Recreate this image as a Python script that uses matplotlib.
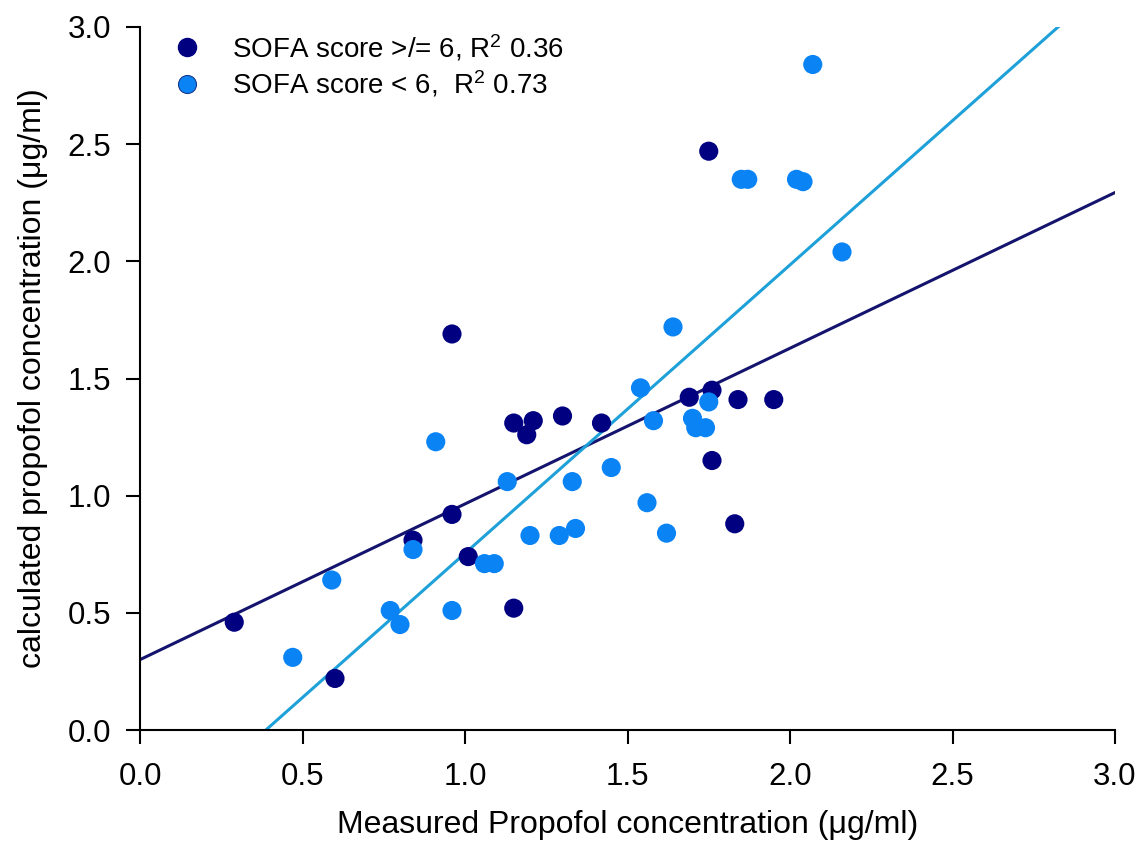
import numpy as np
import matplotlib
matplotlib.use("Agg")
import matplotlib.pyplot as plt
from matplotlib.lines import Line2D

plt.rcParams["font.family"] = ["Liberation Sans", "DejaVu Sans"]
plt.rcParams["mathtext.fontset"] = "custom"
plt.rcParams["mathtext.rm"] = "Liberation Sans"
plt.rcParams["mathtext.it"] = "Liberation Sans:italic"

# Patients with SOFA score >= 6
high_measured = [0.29, 0.60, 0.84, 0.96, 0.96, 1.01, 1.15, 1.19, 1.21, 1.15,
                 1.30, 1.42, 1.69, 1.76, 1.84, 1.95, 1.76, 1.83, 1.75]
high_calculated = [0.46, 0.22, 0.81, 1.69, 0.92, 0.74, 1.31, 1.26, 1.32, 0.52,
                   1.34, 1.31, 1.42, 1.45, 1.41, 1.41, 1.15, 0.88, 2.47]

# Patients with SOFA score < 6
low_measured = [0.47, 0.59, 0.77, 0.80, 0.84, 0.91, 0.96, 1.06, 1.09, 1.13,
                1.20, 1.29, 1.33, 1.34, 1.45, 1.54, 1.56, 1.58, 1.62, 1.64,
                1.70, 1.71, 1.74, 1.75, 1.85, 1.87, 2.02, 2.04, 2.07, 2.16]
low_calculated = [0.31, 0.64, 0.51, 0.45, 0.77, 1.23, 0.51, 0.71, 0.71, 1.06,
                  0.83, 0.83, 1.06, 0.86, 1.12, 1.46, 0.97, 1.32, 0.84, 1.72,
                  1.33, 1.29, 1.29, 1.40, 2.35, 2.35, 2.35, 2.34, 2.84, 2.04]

legend_labels = ["SOFA score >/= 6, R$^2$ 0.36", "SOFA score < 6,  R$^2$ 0.73"]
x_ticks = [0.0, 0.5, 1.0, 1.5, 2.0, 2.5, 3.0]
y_ticks = [0.0, 0.5, 1.0, 1.5, 2.0, 2.5, 3.0]

dark_dot = "#000080"
light_dot = "#0a84f5"
dark_line = "#14146e"
light_line = "#1ea0d8"

fig = plt.figure(figsize=(11.45, 8.6), dpi=100)
ax = fig.add_axes([140 / 1145, 1 - 730 / 860, 975 / 1145, 703 / 860])

# least-squares regression lines over the full axis range
xfit = np.linspace(0, 3, 200)
for xs, ys, col in [(high_measured, high_calculated, dark_line),
                    (low_measured, low_calculated, light_line)]:
    slope, intercept = np.polyfit(xs, ys, 1)
    ax.plot(xfit, slope * xfit + intercept, color=col, lw=2.2, zorder=2)

ax.scatter(high_measured, high_calculated, s=190, color=dark_dot,
           edgecolors="none", zorder=3)
ax.scatter(low_measured, low_calculated, s=190, color=light_dot,
           edgecolors="none", zorder=3)

ax.set_xlim(0, 3)
ax.set_ylim(0, 3)
ax.set_xticks(x_ticks)
ax.set_yticks(y_ticks)
ax.set_xticklabels([f"{t:.1f}" for t in x_ticks])
ax.set_yticklabels([f"{t:.1f}" for t in y_ticks])
ax.tick_params(direction="out", length=10, width=1.5, labelsize=22.5,
               colors="black")
ax.tick_params(axis="x", pad=13)
ax.tick_params(axis="y", pad=11)
for side in ["top", "right"]:
    ax.spines[side].set_visible(False)
for side in ["left", "bottom"]:
    ax.spines[side].set_linewidth(1.5)

ax.set_xlabel("Measured Propofol concentration (μg/ml)", fontsize=23,
              labelpad=13)
ax.set_ylabel("calculated propofol concentration (μg/ml)", fontsize=23,
              labelpad=14)

handles = [
    Line2D([], [], marker="o", ls="none", markersize=13,
           markerfacecolor=dark_dot, markeredgecolor=dark_dot),
    Line2D([], [], marker="o", ls="none", markersize=13,
           markerfacecolor=light_dot, markeredgecolor="#1a3a8a",
           markeredgewidth=0.8),
]
ax.legend(handles, legend_labels, loc="upper left",
          bbox_to_anchor=(0.0, 1.02), frameon=False, fontsize=20,
          handletextpad=0.6, labelspacing=0.2, borderpad=0.2)

fig.savefig("out.png", dpi=100)
